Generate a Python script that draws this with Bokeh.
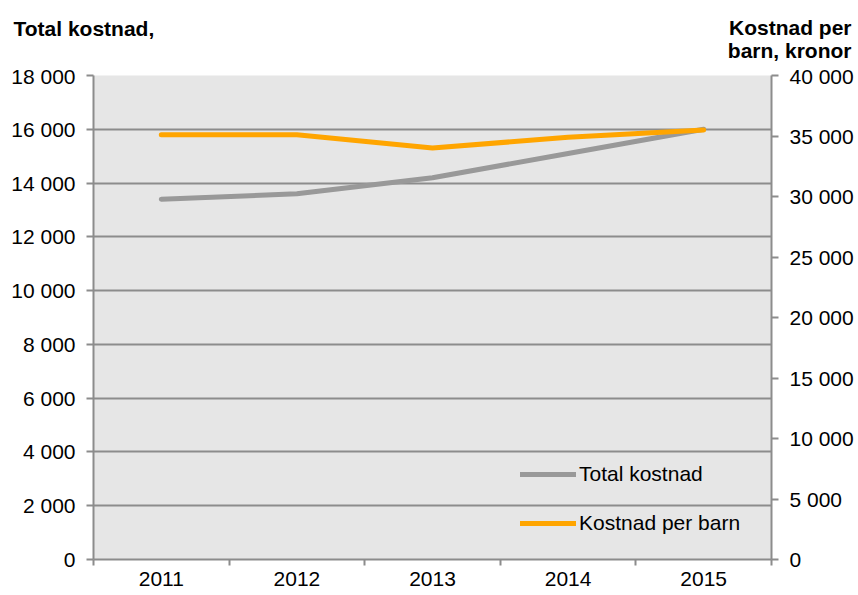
from bokeh.plotting import figure
from bokeh.layouts import column
from bokeh.models import Range1d, LinearAxis, FixedTicker, Legend, LegendItem
from bokeh.core.properties import value
from bokeh.embed import file_html
from bokeh.resources import INLINE

years = [2011, 2012, 2013, 2014, 2015]
total_kostnad = [13400, 13600, 14200, 15100, 16000]
kostnad_per_barn = [35100, 35100, 34000, 34900, 35500]

left_ticks = [0, 2000, 4000, 6000, 8000, 10000, 12000, 14000, 16000, 18000]
left_labels = ["0", "2 000", "4 000", "6 000", "8 000", "10 000", "12 000", "14 000", "16 000", "18 000"]
right_ticks = [0, 5000, 10000, 15000, 20000, 25000, 30000, 35000, 40000]
right_labels = ["0", "5 000", "10 000", "15 000", "20 000", "25 000", "30 000", "35 000", "40 000"]

left_title = "Total kostnad,"
right_title = ["Kostnad per", "barn, kronor"]

FONT = "Liberation Sans"
FS = "21px"
AX = "#8c8c8c"
GRAY = "#999999"
ORANGE = "#FFA500"

W = 858
HEAD_H = 64
MAIN_H = 595 - HEAD_H

# header with the two axis titles
head = figure(width=W, height=HEAD_H, output_backend="svg", toolbar_location=None,
              x_range=Range1d(0, W), y_range=Range1d(0, HEAD_H),
              x_axis_type=None, y_axis_type=None, min_border=0, frame_align=False,
              outline_line_color=None, background_fill_color="white", border_fill_color="white")
head.grid.visible = False
head.text(x=[13], y=[HEAD_H - 28], text=[left_title], text_font=value(FONT), text_font_size="21px",
          text_font_style="bold", text_baseline="middle", text_align="left", text_color="black")
head.text(x=[851, 851], y=[HEAD_H - 27, HEAD_H - 50], text=right_title, text_font=value(FONT),
          text_font_size="21px", text_font_style="bold", text_baseline="middle", text_align="right",
          text_color="black")

p = figure(width=W, height=MAIN_H, output_backend="svg", toolbar_location=None,
           x_range=Range1d(2010.5, 2015.5), y_range=Range1d(0, 18000),
           min_border_left=93, min_border_right=87, min_border_top=11, min_border_bottom=36,
           frame_align=False,
           background_fill_color="#E6E6E6", border_fill_color="white", outline_line_color=None)
p.extra_y_ranges = {"right": Range1d(0, 40000)}

# x axis
xa = p.xaxis[0]
xa.ticker = FixedTicker(ticks=years, minor_ticks=[2010.5, 2011.5, 2012.5, 2013.5, 2014.5, 2015.5])
xa.major_tick_line_color = None
xa.major_tick_out = 6
xa.major_tick_in = 0
xa.minor_tick_line_color = AX
xa.minor_tick_line_width = 2
xa.minor_tick_out = 6
xa.minor_tick_in = 0
xa.axis_line_color = AX
xa.axis_line_width = 2
xa.major_label_standoff = 6
xa.major_label_text_font = FONT
xa.major_label_text_font_size = FS
xa.major_label_text_color = "black"

# left axis
ya = p.yaxis[0]
ya.ticker = FixedTicker(ticks=left_ticks, minor_ticks=[])
ya.major_label_overrides = {t: l for t, l in zip(left_ticks, left_labels)}
ya.axis_line_color = AX
ya.axis_line_width = 2
ya.major_tick_line_color = AX
ya.major_tick_line_width = 2
ya.major_tick_out = 7
ya.major_tick_in = 0
ya.minor_tick_line_color = None
ya.major_label_standoff = 11
ya.major_label_text_font = FONT
ya.major_label_text_font_size = FS
ya.major_label_text_color = "black"

# right axis
ra = LinearAxis(y_range_name="right")
ra.ticker = FixedTicker(ticks=right_ticks, minor_ticks=[])
ra.major_label_overrides = {t: l for t, l in zip(right_ticks, right_labels)}
ra.axis_line_color = AX
ra.axis_line_width = 2
ra.major_tick_line_color = AX
ra.major_tick_line_width = 2
ra.major_tick_out = 7
ra.major_tick_in = 0
ra.minor_tick_line_color = None
ra.major_label_standoff = 11
ra.major_label_text_font = FONT
ra.major_label_text_font_size = FS
ra.major_label_text_color = "black"
p.add_layout(ra, "right")

p.xgrid.grid_line_color = None
p.ygrid.ticker = FixedTicker(ticks=left_ticks)
p.ygrid.grid_line_color = AX
p.ygrid.grid_line_width = 2

r1 = p.line(years, total_kostnad, line_color=GRAY, line_width=5, line_cap="round", line_join="round")
r2 = p.line(years, kostnad_per_barn, line_color=ORANGE, line_width=5, line_cap="round", line_join="round",
            y_range_name="right")

legend = Legend(items=[LegendItem(label="Total kostnad", renderers=[r1]),
                       LegendItem(label="Kostnad per barn", renderers=[r2])],
                location=(427, 24), orientation="vertical",
                background_fill_alpha=0, border_line_color=None,
                padding=0, margin=0, spacing=25,
                glyph_width=56, glyph_height=24, label_height=24, label_standoff=3,
                label_text_font=FONT, label_text_font_size=FS, label_text_color="black")
p.add_layout(legend, "center")

layout = column(head, p, spacing=0)
open("out.html", "w").write(file_html(layout, INLINE))
